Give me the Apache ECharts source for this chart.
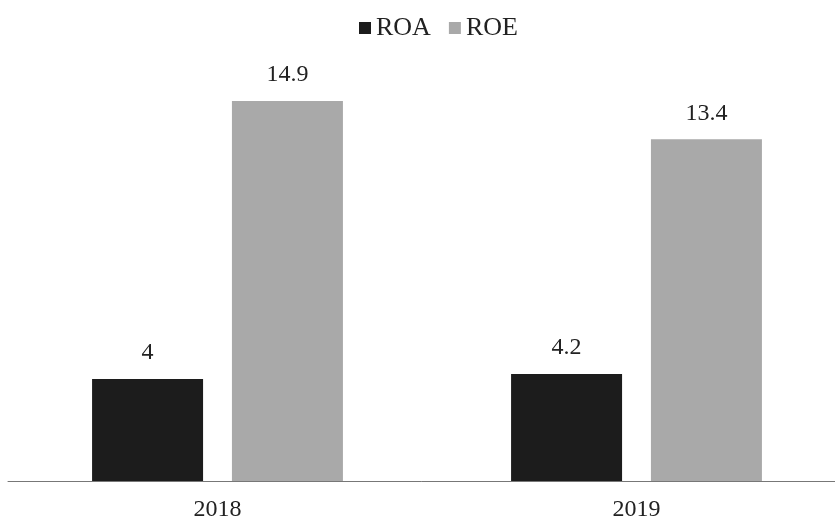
<!DOCTYPE html>
<html>
<head>
<meta charset="utf-8">
<script src="https://cdn.jsdelivr.net/npm/echarts@6/dist/echarts.min.js"></script>
<style>
  html, body { margin: 0; padding: 0; background: #fff; }
  #chart { width: 835px; height: 527px; }
</style>
</head>
<body>
<div id="chart"></div>
<script>
// Years on the category axis
const years = ['2018', '2019'];
// Return on assets, %
const roa = [4, 4.2];
// Return on equity, %
const roe = [14.9, 13.4];

const serif = '"Liberation Serif", "DejaVu Serif", serif';

const chart = echarts.init(document.getElementById('chart'));
chart.setOption({
  backgroundColor: '#ffffff',
  animation: false,
  textStyle: { fontFamily: serif },
  legend: {
    top: 10,
    left: 354,
    icon: 'rect',
    itemWidth: 12,
    itemHeight: 12,
    itemGap: 18,
    textStyle: { fontFamily: serif, fontSize: 26, color: '#222' },
    data: ['ROA', 'ROE']
  },
  // the plot runs a little past the right edge so the two groups sit evenly
  grid: { left: 8, width: 838, top: 101, height: 380, containLabel: false, outerBoundsMode: 'none' },
  xAxis: {
    type: 'category',
    data: years,
    axisLine: { lineStyle: { color: '#777', width: 1 } },
    axisTick: { show: false },
    axisLabel: { fontFamily: serif, fontSize: 24, color: '#222', margin: 17 }
  },
  yAxis: {
    type: 'value',
    min: 0,
    max: 14.9,
    show: false,
    splitLine: { show: false }
  },
  series: [
    {
      name: 'ROA',
      type: 'bar',
      data: roa,
      barWidth: 111,
      barGap: '26%',
      itemStyle: { color: '#1c1c1c' },
      label: { show: true, position: 'top', distance: 14, fontFamily: serif, fontSize: 24, color: '#222' }
    },
    {
      name: 'ROE',
      type: 'bar',
      data: roe,
      barWidth: 111,
      itemStyle: { color: '#a9a9a9' },
      label: { show: true, position: 'top', distance: 14, fontFamily: serif, fontSize: 24, color: '#222' }
    }
  ]
});
</script>
</body>
</html>
